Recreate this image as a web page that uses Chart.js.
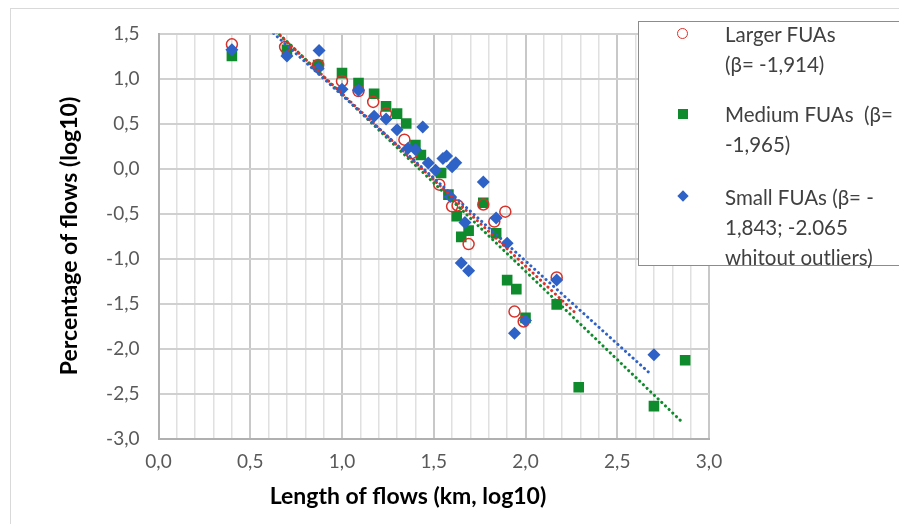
<!DOCTYPE html>
<html>
<head>
<meta charset="utf-8">
<script src="https://cdn.jsdelivr.net/npm/chart.js@4"></script>
<style>
  html, body { margin: 0; padding: 0; background: #fff; overflow: hidden; }
  #wrap { position: relative; width: 899px; height: 524px; overflow: hidden; }
  #frame { position: absolute; left: 10px; top: 8px; width: 900px; height: 530px; border: 1px solid #d9d9d9; }
  #box { position: absolute; left: 0; top: 0; width: 899px; height: 524px; }
  #legend {
    position: absolute; left: 638px; top: 21px; width: 300px; height: 243px;
    background: #fff; border: 1px solid #8c8c8c;
    font-family: Lato, "Open Sans", sans-serif; font-size: 20.5px; color: #404040;
  }
  .item { position: absolute; left: 86px; line-height: 30px; white-space: nowrap; }
  .mk { position: absolute; }
</style>
</head>
<body>
<div id="wrap">
  <div id="frame"></div>
  <div id="box"><canvas id="flowChart"></canvas></div>
  <div id="legend">
    <div class="mk" style="left:38px;top:6px;width:9px;height:9px;border:1.5px solid #d8322b;border-radius:50%"></div>
    <div class="item" style="top:-3px">Larger FUAs<br>(β= -1,914)</div>
    <div class="mk" style="left:39px;top:87px;width:10px;height:10px;background:#0f8a2c"></div>
    <div class="item" style="top:77px">Medium FUAs&nbsp; (β=<br>-1,965)</div>
    <div class="mk" style="left:40px;top:170px;width:8px;height:8px;background:#2f62c6;transform:rotate(45deg)"></div>
    <div class="item" style="top:160px">Small FUAs (β= -<br>1,843; -2.065<br>whitout outliers)</div>
  </div>
</div>
<script>
// Larger FUAs (red open circles)
const largerX = [0.40, 0.69, 0.87, 1.00, 1.09, 1.17, 1.24, 1.34, 1.38, 1.53, 1.60, 1.63, 1.69, 1.77, 1.83, 1.89, 1.94, 1.99, 2.17];
const largerY = [1.38, 1.35, 1.15, 0.97, 0.86, 0.74, 0.61, 0.32, 0.17, -0.18, -0.42, -0.41, -0.84, -0.40, -0.59, -0.48, -1.59, -1.70, -1.21];

// Medium FUAs (green squares)
const mediumX = [0.40, 0.70, 0.87, 1.00, 1.09, 1.175, 1.24, 1.30, 1.35, 1.40, 1.43, 1.54, 1.58, 1.625, 1.65, 1.69, 1.77, 1.84, 1.90, 1.95, 2.00, 2.17, 2.29, 2.70, 2.87];
const mediumY = [1.25, 1.32, 1.15, 1.06, 0.95, 0.83, 0.69, 0.61, 0.50, 0.26, 0.15, -0.05, -0.29, -0.53, -0.76, -0.69, -0.38, -0.72, -1.24, -1.34, -1.66, -1.51, -2.43, -2.64, -2.13];

// Small FUAs (blue diamonds)
const smallX = [0.40, 0.70, 0.875, 0.87, 1.00, 1.09, 1.175, 1.24, 1.30, 1.44, 1.36, 1.40, 1.47, 1.51, 1.55, 1.57, 1.60, 1.62, 1.59, 1.67, 1.77, 1.84, 1.90, 1.65, 1.69, 2.17, 1.94, 2.00, 2.70];
const smallY = [1.32, 1.25, 1.31, 1.11, 0.88, 0.87, 0.58, 0.55, 0.43, 0.46, 0.225, 0.21, 0.06, -0.02, 0.11, 0.14, 0.02, 0.065, -0.31, -0.60, -0.15, -0.55, -0.83, -1.05, -1.135, -1.24, -1.83, -1.69, -2.07];

// dotted trend lines, ends
const trendLargerX = [0.40, 2.27];
const trendLargerY = [1.98, -1.60];
const trendMediumX = [0.40, 2.85];
const trendMediumY = [2.00, -2.81];
const trendSmallX = [0.40, 2.68];
const trendSmallY = [1.92, -2.28];

const red = "#d8322b";
const green = "#0f8a2c";
const blue = "#2f62c6";
const font = "Lato, 'Open Sans', sans-serif";

function pts(xs, ys) {
  return xs.map((x, i) => ({ x: x, y: ys[i] }));
}

function fmt(v) {
  if (Math.abs(v) < 1e-9) v = 0;
  return v.toFixed(1).replace(".", ",");
}

function trend(xs, ys, color) {
  return {
    type: "line",
    data: pts(xs, ys),
    borderColor: color,
    borderWidth: 3,
    borderDash: [0.1, 5],
    borderCapStyle: "round",
    pointRadius: 0,
    fill: false
  };
}

const xTitle = {
  id: "xTitle",
  afterDraw(chart) {
    const c = chart.ctx;
    c.save();
    c.font = "bold 23px " + font;
    c.fillStyle = "#000";
    c.textAlign = "center";
    c.textBaseline = "middle";
    c.fillText("Length of flows (km, log10)", 408, 497);
    c.restore();
  }
};

const ctx = document.getElementById("flowChart").getContext("2d");

const flowChart = new Chart(ctx, {
  type: "scatter",
  data: {
    datasets: [
      trend(trendSmallX, trendSmallY, blue),
      trend(trendLargerX, trendLargerY, red),
      trend(trendMediumX, trendMediumY, green),
      {
        label: "Small FUAs",
        data: pts(smallX, smallY),
        pointStyle: "rectRot",
        pointRadius: 6.5,
        backgroundColor: blue,
        borderColor: blue,
        borderWidth: 0
      },
      {
        label: "Larger FUAs",
        data: pts(largerX, largerY),
        pointStyle: "circle",
        pointRadius: 5.5,
        backgroundColor: "rgba(255,255,255,0)",
        borderColor: red,
        borderWidth: 1.5
      },
      {
        label: "Medium FUAs",
        data: pts(mediumX, mediumY),
        pointStyle: "rect",
        pointRadius: 7.5,
        backgroundColor: green,
        borderColor: green,
        borderWidth: 0
      }
    ]
  },
  options: {
    responsive: true,
    maintainAspectRatio: false,
    animation: false,
    layout: { padding: { left: 0, right: 190, top: 33.5, bottom: 0 } },
    plugins: { legend: { display: false }, tooltip: { enabled: false } },
    scales: {
      x: {
        type: "linear",
        min: 0,
        max: 3,
        afterFit: (s) => { s.height = 85.5; },
        ticks: {
          stepSize: 0.1,
          autoSkip: false,
          maxRotation: 0,
          padding: 12,
          color: "#595959",
          font: { family: font, size: 19 },
          callback: (v) => (Math.round(v * 10) % 5 === 0 ? fmt(v) : "")
        },
        grid: {
          drawTicks: false,
          color: (c) => (Math.round(c.tick.value * 10) % 5 === 0 ? "#c8c8c8" : "#e0e0e0"),
          lineWidth: (c) => (Math.round(c.tick.value * 10) % 5 === 0 ? 2 : 1.5)
        },
        border: { color: "#b0b0b0", width: 2 }
      },
      y: {
        min: -3,
        max: 1.5,
        afterFit: (s) => { s.width = 158.5; },
        ticks: {
          stepSize: 0.5,
          padding: 19,
          color: "#595959",
          font: { family: font, size: 19 },
          callback: (v) => fmt(v)
        },
        grid: { drawTicks: false, color: "#d0d0d0", lineWidth: 2 },
        border: { color: "#b0b0b0", width: 2 },
        title: {
          display: true,
          text: "Percentage of flows (log10)",
          color: "#000",
          font: { family: font, size: 23, weight: "bold" },
          padding: { top: 56, bottom: 0 }
        }
      }
    }
  },
  plugins: [xTitle]
});
</script>
</body>
</html>
